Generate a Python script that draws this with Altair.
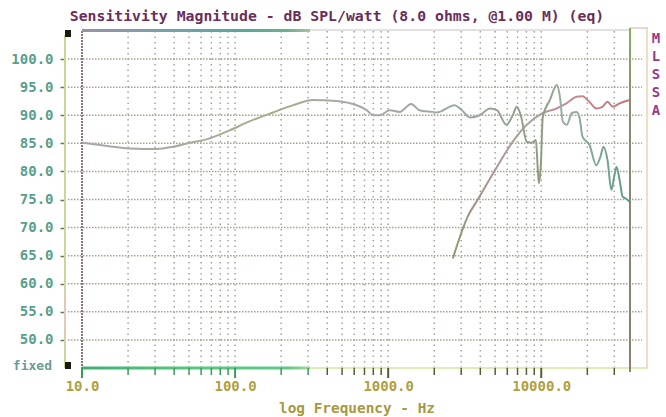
import altair as alt
import pandas as pd

# Woofer/system sensitivity sweep, dB SPL per watt at 1 m
freq_main = [10, 13.1, 20.6, 30.7, 39.5, 50.6, 65, 92, 124, 177, 240, 324, 437, 589,
             724, 798, 883, 1024, 1185, 1414, 1600, 1947, 2070, 2717, 3030, 3420, 3970,
             4623, 5134, 5920, 6518, 6920, 7350, 8038, 8670, 9220, 9500, 9650, 9940,
             10230, 11380, 12650, 13230, 13840, 14690, 15850, 17000, 17800, 18600,
             20670, 22900, 24400, 25500, 27100, 28700, 30100, 31000, 32500, 34000,
             36100, 37800]
db_main = [85.1, 84.7, 84.1, 84.0, 84.4, 85.1, 85.7, 87.3, 88.9, 90.5, 91.8, 92.7, 92.6, 92.0,
           90.9, 90.0, 90.0, 90.9, 90.6, 92.0, 90.9, 90.6, 90.5, 91.8, 90.9, 89.6, 90.0,
           91.2, 90.9, 88.3, 90.0, 91.5, 90.0, 85.3, 85.1, 85.6, 80.3, 77.9, 81.1,
           89.7, 92.7, 95.4, 93.4, 88.9, 88.3, 90.4, 90.6, 89.5, 86.2,
           84.7, 81.1, 82.7, 84.4, 82.0, 76.7, 79.4, 80.8, 78.5, 75.5,
           75.1, 74.6]

# High-pass branch (tweeter section)
freq_hp = [2644, 3313, 3850, 5134, 6518, 8038, 10230, 12600, 14600, 17000, 18600,
           20600, 22900, 25100, 27100, 29300, 32500, 37800]
db_hp = [64.5, 72.0, 75.0, 80.8, 85.3, 88.3, 90.4, 91.2, 92.1, 93.3, 93.4,
         92.4, 91.2, 91.5, 92.4, 91.5, 92.1, 92.7]

# Grid and tick positions
grid_db = [50, 55, 60, 65, 70, 75, 80, 85, 90, 95, 100]
decades = [10, 100, 1000, 10000]
minor_freq = [20, 30, 40, 50, 60, 70, 80, 90, 200, 300, 400, 500, 600, 700, 800, 900,
              2000, 3000, 4000, 5000, 6000, 7000, 8000, 9000, 20000, 30000]
grid_freq = minor_freq + decades[1:]

W, H = 548, 337
MONO = "DejaVu Sans Mono"

x_scale = alt.Scale(type="log", domain=[10, 38000], nice=False)
y_scale = alt.Scale(domain=[45, 105], nice=False, zero=False)

x_axis = alt.Axis(values=decades, format=".1f", title=None, ticks=False, domain=False,
                  grid=False, labelFont=MONO, labelFontSize=14, labelFontWeight="bold",
                  labelColor="#b0a040", labelPadding=11, labelFlush=False)
y_axis = alt.Axis(values=grid_db, format=".1f", title=None, domain=False, grid=False,
                  ticks=True, tickSize=5, tickColor="#6a7a50", tickWidth=1.5, offset=17,
                  labelFont=MONO, labelFontSize=14, labelFontWeight="bold",
                  labelColor="#5a9e8c", labelPadding=7)

X = alt.X("freq:Q", scale=x_scale, axis=x_axis)
Y = alt.Y("db:Q", scale=y_scale, axis=y_axis)


def grad(stops, vertical=False):
    return alt.LinearGradient(
        gradient="linear",
        stops=[alt.GradientStop(color=c, offset=o) for o, c in stops],
        x1=0, y1=0, x2=0 if vertical else 1, y2=1 if vertical else 0,
    )


# dotted horizontal grid
hgrid = alt.Chart(pd.DataFrame({"db": grid_db})).mark_rule(
    color="#a8a08c", strokeWidth=1.5, strokeDash=[1.5, 1.5]
).encode(y=Y, x=alt.value(-14), x2=alt.value(560))

# dotted vertical grid
vgrid = alt.Chart(pd.DataFrame({"freq": grid_freq})).mark_rule(
    color="#9ea898", strokeWidth=1.5, strokeDash=[1.5, 4]
).encode(x=X, y=alt.value(0), y2=alt.value(H))

# heavy dotted line at 10 Hz
left_edge = alt.Chart(pd.DataFrame({"freq": decades[:1]})).mark_rule(
    color="#8c7480", strokeWidth=2, strokeDash=[2, 1]
).encode(x=X, y=alt.value(0), y2=alt.value(H))

# frame pieces
frame_df = pd.DataFrame({"k": [0]})
top_bar = alt.Chart(frame_df).mark_rect(
    color=grad([(0, "#9a90a8"), (0.35, "#78a0b0"), (0.7, "#58a898"), (0.9, "#68b090"), (1, "#a8c0a8")])
).encode(x=alt.value(0), x2=alt.value(228), y=alt.value(-2), y2=alt.value(1))
top_thin = alt.Chart(frame_df).mark_rule(color="#c8c0c0", strokeWidth=1).encode(
    x=alt.value(228), x2=alt.value(548), y=alt.value(-1))
top_outer = alt.Chart(frame_df).mark_rule(color="#e8c4c4", strokeWidth=1.5).encode(
    x=alt.value(548), x2=alt.value(566), y=alt.value(-3))
right_bar = alt.Chart(frame_df).mark_rect(
    color=grad([(0, "#88b060"), (0.25, "#8a8a70"), (1, "#8a8070")], vertical=True)
).encode(x=alt.value(547), x2=alt.value(549), y=alt.value(-3), y2=alt.value(H + 4))
right_outer = alt.Chart(frame_df).mark_rule(color="#e8d4b0", strokeWidth=1.5).encode(
    x=alt.value(565), y=alt.value(-3), y2=alt.value(H))
left_axis = alt.Chart(frame_df).mark_rect(
    color=grad([(0, "#c8d890"), (0.7, "#c8d898"), (0.85, "#e4c8c0"), (1, "#c8d890")], vertical=True)
).encode(x=alt.value(-18), x2=alt.value(-16), y=alt.value(4), y2=alt.value(H))
bottom_bar = alt.Chart(frame_df).mark_rect(
    color=grad([(0, "#40b070"), (0.5, "#58c880"), (0.9, "#60c888"), (1, "#a8d8a0")])
).encode(x=alt.value(0), x2=alt.value(228), y=alt.value(H - 1.5), y2=alt.value(H + 1.5))
bottom_thin = alt.Chart(frame_df).mark_rule(color="#d0e8a0", strokeWidth=1.5).encode(
    x=alt.value(228), x2=alt.value(566), y=alt.value(H))
corner_top = alt.Chart(frame_df).mark_rect(color="#1a1a10").encode(
    x=alt.value(-17), x2=alt.value(-11), y=alt.value(-1), y2=alt.value(6))
corner_bottom = alt.Chart(frame_df).mark_rect(color="#1a1a10").encode(
    x=alt.value(-17), x2=alt.value(-11), y=alt.value(H - 6), y2=alt.value(H + 1))

# x ticks below the axis
tick_color = alt.condition(alt.datum.freq < 350, alt.value("#3c9a58"), alt.value("#5a5a38"))
minor_ticks = alt.Chart(pd.DataFrame({"freq": minor_freq})).mark_rule(strokeWidth=1.5).encode(
    x=X, y=alt.value(H), y2=alt.value(H + 7), color=tick_color)
major_ticks = alt.Chart(pd.DataFrame({"freq": decades})).mark_rule(strokeWidth=2).encode(
    x=X, y=alt.value(H), y2=alt.value(H + 10), color=tick_color)

# response curves
main_line = alt.Chart(pd.DataFrame({"freq": freq_main, "db": db_main})).mark_line(
    strokeWidth=2, interpolate="monotone",
    color=grad([(0, "#a8a8a8"), (0.25, "#a8ac98"), (0.35, "#a4ac8c"), (0.5, "#a8a8a8"),
                (0.7, "#98aaa4"), (0.84, "#909c80"), (0.88, "#9cb0a4"), (1, "#5e9c88")]),
).encode(x=X, y=Y)
hp_line = alt.Chart(pd.DataFrame({"freq": freq_hp, "db": db_hp})).mark_line(
    strokeWidth=2, interpolate="monotone",
    color=grad([(0, "#8a9a70"), (0.2, "#b09090"), (0.45, "#a8a8a0"), (0.6, "#c09098"),
                (1, "#c07878")]),
).encode(x=X, y=Y)

# text
title = alt.Chart(frame_df).mark_text(
    text="Sensitivity Magnitude - dB SPL/watt (8.0 ohms, @1.00 M) (eq)",
    font=MONO, fontSize=14.8, fontWeight="bold", color="#6a2e58",
    align="center", baseline="middle",
).encode(x=alt.value(255), y=alt.value(-14))
x_title = alt.Chart(frame_df).mark_text(
    text="log Frequency - Hz", font=MONO, fontSize=14.4, fontWeight="bold",
    color="#a89840", align="center", baseline="middle",
).encode(x=alt.value(275), y=alt.value(378))
brand = alt.Chart(frame_df).mark_text(
    text=["M", "L", "S", "S", "A"], font=MONO, fontSize=14, fontWeight="bold",
    color="#9a3a88", align="center", baseline="top", lineHeight=18,
).encode(x=alt.value(574), y=alt.value(1))
fixed = alt.Chart(frame_df).mark_text(
    text="fixed", font=MONO, fontSize=13, fontWeight="bold", color="#6a9c98",
    align="right", baseline="middle",
).encode(x=alt.value(-30), y=alt.value(335))

chart = alt.layer(
    hgrid, vgrid, left_edge,
    top_bar, top_thin, top_outer, right_outer, left_axis,
    bottom_thin, bottom_bar, minor_ticks, major_ticks,
    hp_line, main_line, right_bar,
    corner_top, corner_bottom,
    title, x_title, brand, fixed,
).properties(
    width=W, height=H,
    autosize=alt.AutoSizeParams(type="none"),
    padding={"left": 82, "top": 31, "right": 36, "bottom": 49},
    background="white",
).configure_view(stroke=None)

chart.save("out.html", embed_options={"renderer": "svg", "actions": False})
